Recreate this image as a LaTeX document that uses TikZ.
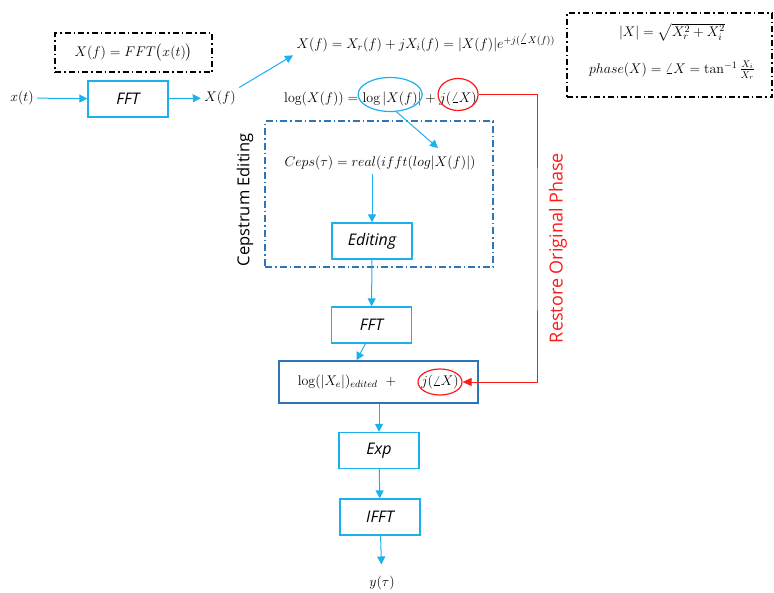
\RequirePackage{fix-cm}
\documentclass[tikz,border=0pt]{standalone}
\usepackage{amsmath}
\usepackage{fontspec}
\setsansfont{Open Sans}
\usetikzlibrary{arrows.meta, positioning, shapes.geometric}
\definecolor{skyblue}{HTML}{1CB0EE}
\definecolor{deepblue}{HTML}{2E75B6}
\definecolor{phasered}{HTML}{FF1A1A}

\begin{document}
\begin{tikzpicture}[x=1pt, y=-1pt,
    font=\fontsize{14}{16}\selectfont,
    flow/.style={-{Triangle[length=8pt,width=8pt]}, draw=skyblue, line width=1pt},
    restore/.style={-{Triangle[length=9pt,width=8pt]}, draw=phasered, line width=1pt},
    blk/.style={draw=skyblue, line width=1.3pt, minimum width=80pt, minimum height=36pt, inner sep=0pt, font=\fontsize{16}{18}\sffamily\itshape},
    outbox/.style={draw=deepblue, line width=1.5pt},
    note/.style={draw=black, line width=1.2pt, dash pattern=on 6pt off 3pt on 1.5pt off 3pt},
    cepsframe/.style={draw=deepblue, line width=1.2pt, dash pattern=on 7pt off 3pt on 1.5pt off 3pt},
    ring/.style={ellipse, draw=#1, line width=1.2pt, inner sep=0pt},
    eqpart/.style={anchor=base west, inner sep=0pt}
]
    \useasboundingbox (0,0) rectangle (774,592);

    % forward transform
    \node (xt) at (22,98) {$x(t)$};
    \node[blk] (fft) at (128,99) {FFT};
    \node (Xf) at (220,98) {$X(f)$};
    \node[note, minimum width=157pt, minimum height=39pt] (fftdef) at (133.5,52.5) {$X(f) = FFT\bigl(x(t)\bigr)$};
    \draw[flow] (xt) -- (fft);
    \draw[flow] (fft) -- (Xf);

    % polar form and log split
    \node[anchor=west] (polar) at (293,43) {$X(f) = X_r(f) + jX_i(f) = |X(f)|e^{+j(\angle X(f))}$};
    \draw[flow] (Xf.north east) -- (polar.south west);

    \node[eqpart] (loglhs) at (284,102) {$\log(X(f)) ={}$};
    \node[eqpart] (logmag) at (loglhs.base east) {$\log|X(f)|$};
    \node[eqpart] (logplus) at (logmag.base east) {${}+{}$};
    \node[eqpart] (logph) at (logplus.base east) {$j(\angle X)$};
    \node[ring=skyblue, minimum width=64pt, minimum height=34pt] (magring) at ([xshift=-2pt,yshift=4pt]logmag.center) {};
    \node[ring=phasered, minimum width=40pt, minimum height=32pt] (phring) at ([yshift=4pt]logph.center) {};

    % magnitude / phase definitions
    \node[note, minimum width=205pt, minimum height=84pt] (polardef) at (669.5,55) {};
    \node (magdef) at (672,32) {$|X| = \sqrt{X_r^2 + X_i^2}$};
    \node (phdef) at (672,70) {$phase(X) = \angle X = \tan^{-1}\frac{X_i}{X_r}$};

    % cepstrum editing stage
    \node[cepsframe, minimum width=228pt, minimum height=146pt] (cepsbox) at (379,194) {};
    \node[rotate=90, font=\fontsize{16.5}{18}\sffamily] (cepslbl) at (245,200) {Cepstrum Editing};
    \node (ceps) at (380,163) {$Ceps(\tau) = real(ifft(log|X(f)|)$};
    \coordinate (cepsin) at (438,148);
    \draw[flow] (magring.290) -- (cepsin);
    \node[blk] (edit) at (372,241) {Editing};
    \draw[flow] (edit.north |- ceps.south) -- (edit.north);

    % back to spectrum
    \node[blk] (fft2) at (371.5,325) {FFT};
    \draw[flow] (edit) -- (fft2);
    \node[outbox, minimum width=199pt, minimum height=42pt] (recomb) at (378.5,382) {};
    \node (edlog) at (347,382) {$\log(|X_e|)_{edited}\;\;+$};
    \node (edph) at (440,382) {$j(\angle X)$};
    \node[ring=phasered, minimum width=44pt, minimum height=26pt] (edring) at (edph.center) {};
    \draw[flow] ([xshift=-6pt]fft2.south) -- ([xshift=-22pt]recomb.north);

    \node[blk] (expb) at (379,450.5) {Exp};
    \draw[flow] (recomb.south -| expb.north) -- (expb.north);
    \node[blk] (ifft) at (380,517) {IFFT};
    \draw[flow] (expb) -- (ifft);
    \node (yt) at (382,583) {$y(\tau)$};
    \draw[flow, shorten >=8pt] (ifft) -- (yt);

    % phase bypass
    \coordinate (route) at (537,240);
    \draw[restore] (phring.east) -| (route) |- (edring.east);
    \node[rotate=90, text=phasered, font=\fontsize{18}{20}\sffamily] (restorelbl) at (558,248) {Restore Original Phase};
\end{tikzpicture}
\end{document}
